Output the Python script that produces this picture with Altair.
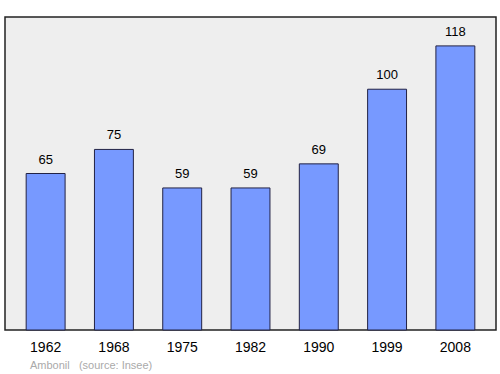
import altair as alt
import pandas as pd

years = ["1962", "1968", "1975", "1982", "1990", "1999", "2008"]
population = [65, 75, 59, 59, 69, 100, 118]

df = pd.DataFrame({"year": years, "pop": population})

x = alt.X("year:N", sort=years, title=None,
          scale=alt.Scale(paddingInner=0.43, paddingOuter=0.31),
          axis=alt.Axis(labelAngle=0, labelFontSize=14, labelColor="#000",
                        labelFont="Liberation Sans", ticks=False, domain=False,
                        labelPadding=10))
y = alt.Y("pop:Q", title=None, scale=alt.Scale(domain=[0, 130], nice=False),
          axis=None)

bars = alt.Chart(df).mark_bar(color="#7799ff", stroke="#222244", strokeWidth=1).encode(x=x, y=y)
labels = alt.Chart(df).mark_text(baseline="alphabetic", dy=-10, fontSize=13,
                                 font="Liberation Sans", color="#000").encode(
    x=x, y=y, text="pop:Q")

chart = (bars + labels).properties(
    width=491, height=313,
    autosize=alt.AutoSizeParams(type="none"),
    padding={"left": 5, "top": 17, "right": 4, "bottom": 44},
    title=alt.TitleParams("Ambonil\u00a0\u00a0\u00a0(source: Insee)", orient="bottom",
                          anchor="start", fontSize=11, fontWeight="normal", color="#aaaaaa",
                          font="Liberation Sans", dx=25, offset=6),
).configure_view(fill="#eeeeee", stroke="#222222", strokeWidth=1.5)

chart.save("out.html", embed_options={"renderer": "svg", "actions": False})
